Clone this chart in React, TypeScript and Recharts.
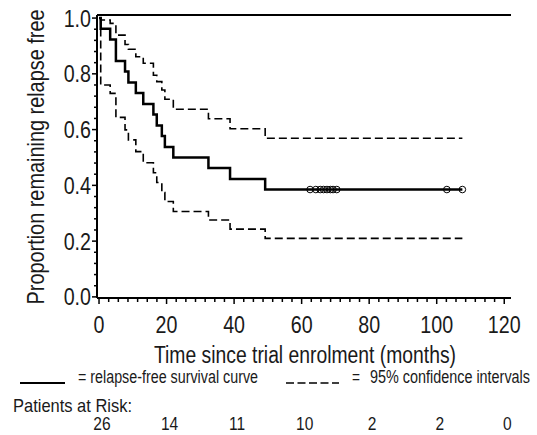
import React from "react";
import {
  ComposedChart,
  Line,
  Scatter,
  XAxis,
  YAxis,
  ReferenceLine,
} from "recharts";

// step times (months) and Kaplan-Meier estimates
const eventTimes = [0, 0.5, 3.3, 5.0, 7.7, 8.7, 10.9, 13.1, 16.1, 17.1, 18.6, 19.5, 22.0, 32.4, 38.8, 49.2, 107.6];
const survival = [1.0, 0.962, 0.923, 0.846, 0.808, 0.769, 0.731, 0.692, 0.654, 0.615, 0.577, 0.538, 0.5, 0.462, 0.423, 0.385, 0.385];
const upperCI = [1.0, 0.993, 0.981, 0.939, 0.905, 0.888, 0.861, 0.838, 0.795, 0.772, 0.742, 0.709, 0.673, 0.639, 0.603, 0.569, 0.569];
const lowerCI = [1.0, 0.76, 0.73, 0.644, 0.599, 0.563, 0.521, 0.481, 0.445, 0.41, 0.374, 0.342, 0.306, 0.276, 0.243, 0.21, 0.21];

// censored observations (all on the last step)
const censorTimes = [62.5, 64.2, 65.5, 66.5, 67.5, 68.5, 69.3, 70.4, 103.0, 107.6];
const censorLevel = 0.385;

const xTicks = [0, 20, 40, 60, 80, 100, 120];
const atRisk = [26, 14, 11, 10, 2, 2, 0];
const yTicks = [0, 0.2, 0.4, 0.6, 0.8, 1.0];

// minor tick marks (axis styling only)
const xMinor = Array.from({ length: 43 }, (_, i) => (i * 20) / 7);
const yMinor = Array.from({ length: 26 }, (_, i) => (i * 4) / 100);

const kmData = eventTimes.map((t, i) => ({ t, v: survival[i] }));
const upData = eventTimes.map((t, i) => ({ t, v: upperCI[i] }));
const loData = eventTimes.map((t, i) => ({ t, v: lowerCI[i] }));
const censorData = censorTimes.map((t) => ({ t, v: censorLevel }));

// no condensed face installed: squeeze Liberation Sans horizontally
const FONT = "'Liberation Sans', Arial, sans-serif";
const INK = "#1a1a1a";
const SQ = 0.82;

const XTick = (props: any) => {
  const { x, y, payload } = props;
  const idx = xTicks.indexOf(payload.value);
  const major = idx >= 0;
  return (
    <g>
      <line x1={x} x2={x} y1={y} y2={y + (major ? 6 : 4)} stroke="#000" strokeWidth={1.5} />
      {major && (
        <text
          transform={`translate(${x},${y + 35}) scale(${SQ},1)`}
          textAnchor="middle"
          fontSize={24}
          fontFamily={FONT}
          fill={INK}
        >
          {payload.value}
        </text>
      )}
      {major && (
        <text
          transform={`translate(${x + 3},${y + 132}) scale(${SQ},1)`}
          textAnchor="middle"
          fontSize={19}
          fontFamily={FONT}
          fill={INK}
        >
          {atRisk[idx]}
        </text>
      )}
    </g>
  );
};

const YTick = (props: any) => {
  const { x, y, payload } = props;
  const major = yTicks.includes(payload.value);
  return (
    <g>
      <line x1={x - (major ? 5 : 3)} x2={x} y1={y} y2={y} stroke="#000" strokeWidth={1.5} />
      {major && (
        <text
          transform={`translate(${x - 6},${y + 8.5}) scale(${SQ},1)`}
          textAnchor="end"
          fontSize={24}
          fontFamily={FONT}
          fill={INK}
        >
          {payload.value.toFixed(1)}
        </text>
      )}
    </g>
  );
};

const Ring = (props: any) => (
  <circle cx={props.cx} cy={props.cy} r={3.3} fill="none" stroke="#000" strokeWidth={1} />
);

export default function App() {
  return (
    <div style={{ position: "absolute", left: 0, top: 0, width: 537, height: 435, background: "#fff" }}>
      <ComposedChart width={537} height={435} margin={{ top: 15, right: 26, bottom: 0, left: 0 }}>
        <XAxis
          dataKey="t"
          type="number"
          domain={[-0.6, 122]}
          ticks={xMinor}
          interval={0}
          tick={<XTick />}
          tickLine={false}
          tickSize={0}
          tickMargin={0}
          height={137}
          axisLine={{ stroke: "#000", strokeWidth: 2 }}
        />
        <YAxis
          dataKey="v"
          type="number"
          domain={[-0.004, 1.011]}
          ticks={yMinor}
          interval={0}
          tick={<YTick />}
          tickLine={false}
          tickSize={0}
          tickMargin={0}
          width={97}
          axisLine={{ stroke: "#000", strokeWidth: 2 }}
        />
        <ReferenceLine y={1.011} stroke="#000" strokeWidth={2} />
        <Line
          data={upData}
          dataKey="v"
          type="stepAfter"
          stroke="#000"
          strokeWidth={1.6}
          strokeDasharray="8 4"
          dot={false}
          isAnimationActive={false}
        />
        <Line
          data={loData}
          dataKey="v"
          type="stepAfter"
          stroke="#000"
          strokeWidth={1.6}
          strokeDasharray="8 4"
          dot={false}
          isAnimationActive={false}
        />
        <Line
          data={kmData}
          dataKey="v"
          type="stepAfter"
          stroke="#000"
          strokeWidth={2.5}
          dot={false}
          isAnimationActive={false}
        />
        <Scatter data={censorData} dataKey="v" shape={<Ring />} isAnimationActive={false} />
      </ComposedChart>
      <svg
        width={537}
        height={435}
        style={{ position: "absolute", left: 0, top: 0, pointerEvents: "none" }}
        fontFamily={FONT}
        fill={INK}
      >
        <text
          transform="translate(44,157) rotate(-90)"
          textAnchor="middle"
          fontSize={24}
          textLength={295}
          lengthAdjust="spacingAndGlyphs"
        >
          Proportion remaining relapse free
        </text>
        <text x={154} y={363} fontSize={23.5} textLength={302} lengthAdjust="spacingAndGlyphs">
          Time since trial enrolment (months)
        </text>
        <line x1={20} x2={65} y1={383} y2={383} stroke="#000" strokeWidth={2} />
        <text x={78} y={383} fontSize={17.5} textLength={180} lengthAdjust="spacingAndGlyphs">
          = relapse-free survival curve
        </text>
        <line x1={286} x2={339} y1={383} y2={383} stroke="#000" strokeWidth={1.5} strokeDasharray="8 3.5" />
        <text x={352} y={383} fontSize={17.5} textLength={8} lengthAdjust="spacingAndGlyphs">
          =
        </text>
        <text x={370} y={383} fontSize={17.5} textLength={160} lengthAdjust="spacingAndGlyphs">
          95% confidence intervals
        </text>
        <text x={13} y={412} fontSize={19} textLength={119} lengthAdjust="spacingAndGlyphs">
          Patients at Risk:
        </text>
      </svg>
    </div>
  );
}
